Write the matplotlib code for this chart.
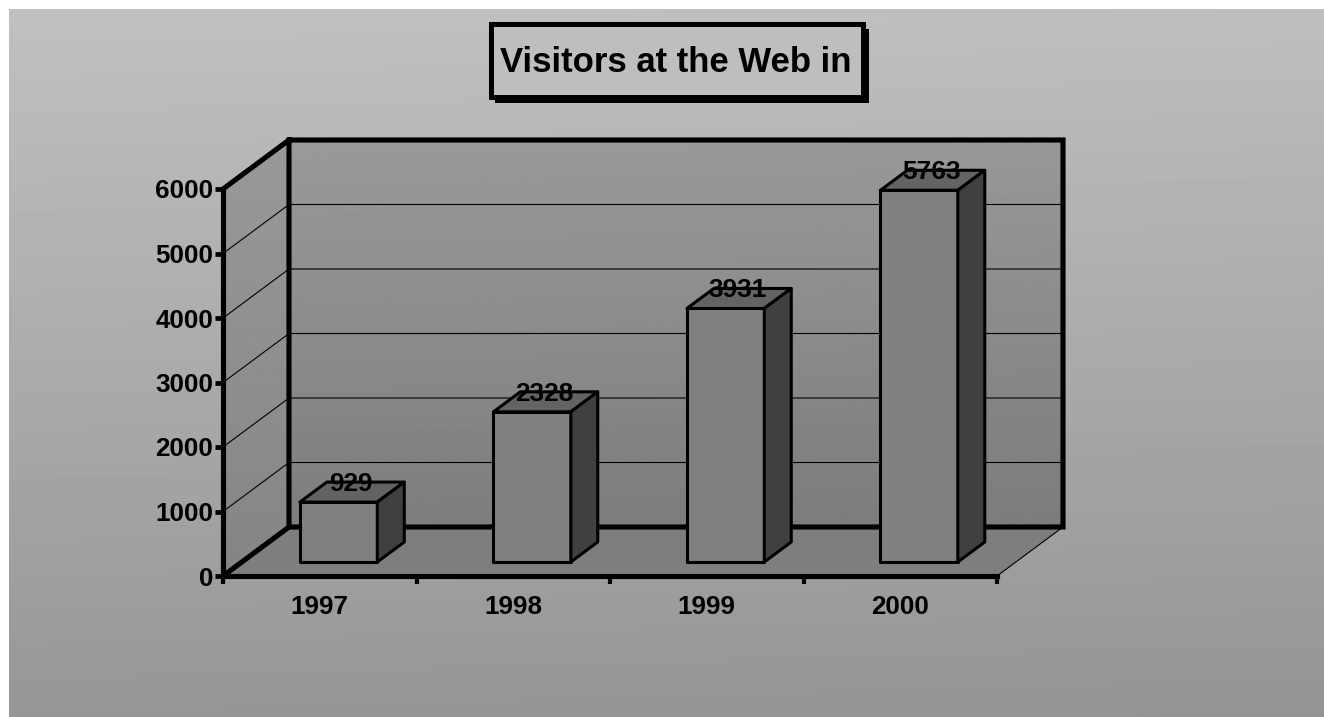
import matplotlib
matplotlib.use("Agg")
import matplotlib.pyplot as plt
import numpy as np
from matplotlib.patches import Polygon, Rectangle

plt.rcParams['font.family'] = ['Liberation Sans', 'DejaVu Sans']
plt.rcParams['font.weight'] = 'bold'

years = ['1997', '1998', '1999', '2000']
visitors = [929, 2328, 3931, 5763]
y_ticks = [0, 1000, 2000, 3000, 4000, 5000, 6000]

W, H = 1324, 717
# depth of the fake 3d box, in category units / value units
depth_x = 66 / 193.5
depth_y = 49 / 0.0645
ymax = 6000
bar_w = 0.40
d_front, d_back = 0.286, 0.694


def project(x, y, d):
    return x + d * depth_x, y + d * depth_y


def gradient(ax, extent, top, bottom, slant, clip=None):
    # vertical grey ramp with a little tilt to the left
    v, u = np.mgrid[0:1:200j, 0:1:200j]
    img = top + (bottom - top) * (v + slant * (u - 0.5))
    im = ax.imshow(img, extent=extent, origin='upper', cmap='gray', vmin=0, vmax=1,
                   aspect='auto', zorder=0, interpolation='bilinear')
    if clip is not None:
        im.set_clip_box(ax.figure.bbox)
        im.set_clip_path(clip)
    return im


fig = plt.figure(figsize=(W / 100, H / 100), dpi=100, facecolor='white')

bg = fig.add_axes([9 / W, 0, (W - 9) / W, (H - 9) / H])
bg.axis('off')
gradient(bg, [0, 1, 0, 1], 0.75, 0.585, 0.05)

ax = fig.add_axes([223 / W, (H - 576) / H, 774 / W, 387 / H])
ax.set_xlim(0, 4)
ax.set_ylim(0, ymax)
ax.patch.set_alpha(0)

n = len(years)
# back wall, side wall, floor
back = Polygon([project(0, 0, 1), project(n, 0, 1), project(n, ymax, 1), project(0, ymax, 1)],
               closed=True, fc='none', ec='none', transform=ax.transData, clip_on=False)
ax.add_patch(back)
x0, y0 = project(0, 0, 1)
x1, y1 = project(n, ymax, 1)
gradient(ax, [x0, x1, y0, y1], 0.60, 0.49, 0.05, back)

side = Polygon([project(0, 0, 0), project(0, 0, 1), project(0, ymax, 1), project(0, ymax, 0)],
               closed=True, fc='none', ec='none', clip_on=False)
ax.add_patch(side)
x2, _ = project(0, 0, 0)
x3, _ = project(0, 0, 1)
gradient(ax, [x2, x3, 0, project(0, ymax, 1)[1]], 0.60, 0.52, 0.0, side)

floor = Polygon([project(0, 0, 0), project(n, 0, 0), project(n, 0, 1), project(0, 0, 1)],
                closed=True, fc='#7e7e7e', ec='none', clip_on=False, zorder=1)
ax.add_patch(floor)

ax.set_xlim(0, 4)
ax.set_ylim(0, ymax)

# gridlines on both walls
for t in y_ticks[1:]:
    xs, ys = zip(project(0, t, 0), project(0, t, 1), project(n, t, 1))
    ax.plot(xs, ys, color='black', lw=0.8, clip_on=False, zorder=2)

# thick outline of the walls
xs, ys = zip(project(0, ymax, 0), project(0, ymax, 1), project(n, ymax, 1),
             project(n, 0, 1), project(0, 0, 1), project(0, ymax, 1))
ax.plot(xs, ys, color='black', lw=3.7, clip_on=False, zorder=3, solid_joinstyle='miter')
xs, ys = zip(project(0, 0, 0), project(0, 0, 1))
ax.plot(xs, ys, color='black', lw=3.7, clip_on=False, zorder=3)
xs, ys = zip(project(n, 0, 0), project(n, 0, 1))
ax.plot(xs, ys, color='black', lw=0.8, clip_on=False, zorder=3)

# bars
for i, val in enumerate(visitors):
    left = i + 0.5 - bar_w / 2
    right = i + 0.5 + bar_w / 2
    front = [project(left, 0, d_front), project(right, 0, d_front),
             project(right, val, d_front), project(left, val, d_front)]
    top = [project(left, val, d_front), project(right, val, d_front),
           project(right, val, d_back), project(left, val, d_back)]
    rside = [project(right, 0, d_front), project(right, 0, d_back),
             project(right, val, d_back), project(right, val, d_front)]
    for pts, col in [(front, '#808080'), (top, '#636363'), (rside, '#404040')]:
        ax.add_patch(Polygon(pts, closed=True, fc=col, ec='black', lw=2.2, clip_on=False,
                             zorder=4, joinstyle='round'))
    lx, _ = project(i + 0.5, val, 0.47)
    _, ly = project(i + 0.5, val, d_back)
    ax.annotate(str(val), (lx, ly), xytext=(0, -1.3), textcoords='offset points',
                ha='center', va='center', fontsize=18.9, color='black',
                annotation_clip=False, zorder=6)

for s in ['top', 'right']:
    ax.spines[s].set_visible(False)
for s in ['left', 'bottom']:
    ax.spines[s].set_linewidth(3.7)
    ax.spines[s].set_zorder(5)

ax.set_yticks(y_ticks)
ax.set_yticklabels([str(t) for t in y_ticks], fontsize=18.7)
ax.set_xticks(range(n + 1))
ax.set_xticklabels([])
ax.set_xticks([i + 0.5 for i in range(n)], labels=years, minor=True, fontsize=18.7)
ax.tick_params(axis='y', which='major', length=6, width=3.4, pad=1)
ax.tick_params(axis='x', which='major', length=6, width=3.0)
ax.tick_params(axis='x', which='minor', length=0, pad=14)
ax.set_axisbelow(False)


# title box with its drop shadow, in figure pixels
def px(x, y):
    return x / W, (H - y) / H


fig.add_artist(Rectangle(px(495, 103), 374 / W, 74 / H, transform=fig.transFigure,
                         fc='black', ec='none', zorder=10))
fig.add_artist(Rectangle(px(490.5, 96.5), 372 / W, 73 / H, transform=fig.transFigure,
                         fc='#bebebe', ec='black', lw=3.6, zorder=11))
fig.text(*px(676, 71.5), 'Visitors at the Web in', ha='center', va='baseline', fontsize=25,
         color='black', zorder=12)

fig.savefig('out.png', dpi=100)
